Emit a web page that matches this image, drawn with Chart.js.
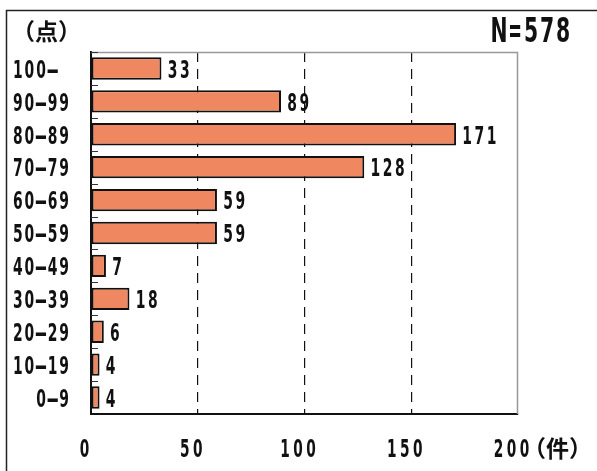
<!DOCTYPE html>
<html>
<head>
<meta charset="utf-8">
<script src="https://cdn.jsdelivr.net/npm/chart.js@4"></script>
<style>
html,body{margin:0;padding:0;background:#fff;}
#wrap{width:597px;height:471px;position:relative;}
</style>
</head>
<body>
<div id="wrap"><canvas id="c" width="597" height="471"></canvas></div>
<script>
const categories = ["100- ", "90-99", "80-89", "70-79", "60-69", "50-59", "40-49", "30-39", "20-29", "10-19", "0-9"];
const counts = [33, 89, 171, 128, 59, 59, 7, 18, 6, 4, 4];
const xTicks = [0, 50, 100, 150, 200];
const unitY = "（点）";
const unitX = "（件）";
const totalLabel = "N=578";

const NUM_FONT = "'DejaVu Sans', sans-serif";
const CJK_FONT = "'Noto Sans CJK JP', sans-serif";
const CHAR_SCALE = { '-': 2.4, '=': 0.8 };

// draws text as narrow fixed-pitch cells; y is the vertical centre of the digits
function drawCells(ctx, text, x, y, align, size, sx, pitch) {
  const total = text.length * pitch;
  let start = x;
  if (align === 'right') start = x - total;
  else if (align === 'center') start = x - total / 2;
  ctx.save();
  ctx.font = "bold " + size + "px " + NUM_FONT;
  ctx.textAlign = 'center';
  ctx.textBaseline = 'alphabetic';
  ctx.fillStyle = '#111';
  const base = y + size * 0.729 / 2;
  for (let i = 0; i < text.length; i++) {
    const ch = text[i];
    if (ch === ' ') continue;
    const cx = start + pitch * (i + 0.5);
    ctx.save();
    ctx.translate(cx, base);
    ctx.scale(sx * (CHAR_SCALE[ch] || 1), 1);
    ctx.fillText(ch, 0, 0);
    ctx.restore();
  }
  ctx.restore();
}

const decor = {
  id: 'decor',
  beforeDraw(chart){
    const ctx = chart.ctx;
    ctx.save();
    ctx.strokeStyle = '#222';
    ctx.lineWidth = 1.5;
    ctx.beginPath();
    ctx.moveTo(6.5, 471);
    ctx.lineTo(6.5, 10.5);
    ctx.lineTo(597, 10.5);
    ctx.stroke();
    ctx.restore();
  },
  afterDatasetsDraw(chart){
    const ctx = chart.ctx;
    const a = chart.chartArea;
    const ys = chart.scales.y;
    const xs = chart.scales.x;
    ctx.save();
    // plot frame top/right (gray)
    ctx.strokeStyle = '#999';
    ctx.lineWidth = 1.5;
    ctx.beginPath();
    ctx.moveTo(a.left, a.top + 0.5);
    ctx.lineTo(a.right - 0.5, a.top + 0.5);
    ctx.lineTo(a.right - 0.5, a.bottom);
    ctx.stroke();
    // inner tick marks at category boundaries
    ctx.strokeStyle = '#333';
    ctx.lineWidth = 1;
    for (let i = 0; i < categories.length; i++) {
      const y = Math.round(ys.getPixelForValue(i - 0.5)) + 0.5;
      ctx.beginPath();
      ctx.moveTo(a.left, y);
      ctx.lineTo(a.left + 7, y);
      ctx.stroke();
    }
    ctx.restore();

    // category labels (y axis)
    categories.forEach((c, i) => {
      drawCells(ctx, c, a.left - 21, ys.getPixelForValue(i) + 0.5, 'right', 24, 0.58, 11.6);
    });
    // x tick labels
    xTicks.forEach(v => {
      drawCells(ctx, String(v), xs.getPixelForValue(v) - 6.5, 448, 'center', 24.5, 0.56, 13);
    });
    // value labels
    const meta = chart.getDatasetMeta(0);
    meta.data.forEach((bar, i) => {
      drawCells(ctx, String(counts[i]), bar.x + 5, bar.y + 0.5, 'left', 24, 0.58, 12.2);
    });
    // N label
    drawCells(ctx, totalLabel, 491, 30, 'left', 34, 0.6, 16);

    // unit labels
    ctx.save();
    ctx.fillStyle = '#111';
    ctx.font = "bold 23px " + CJK_FONT;
    ctx.textAlign = 'left';
    ctx.textBaseline = 'middle';
    ctx.fillText(unitY, 12, 31);
    ctx.fillText(unitX, 523, 448);
    ctx.restore();
  }
};

new Chart(document.getElementById('c'), {
  type: 'bar',
  data: {
    labels: categories,
    datasets: [{
      data: counts,
      backgroundColor: '#EF8860',
      borderColor: '#111',
      borderWidth: 2,
      borderSkipped: false,
      categoryPercentage: 1,
      barPercentage: 0.68
    }]
  },
  options: {
    indexAxis: 'y',
    responsive: false,
    animation: false,
    devicePixelRatio: 1,
    layout: { padding: { top: 52, right: 79, left: 0, bottom: 0 } },
    plugins: { legend: { display: false }, tooltip: { enabled: false } },
    scales: {
      x: {
        min: 0, max: 200,
        afterBuildTicks(s){ s.ticks = xTicks.map(v => ({ value: v })); },
        afterFit(s){ s.height = 57; },
        border: { display: true, color: '#111', width: 2, dash: [10, 7] },
        grid: {
          drawTicks: false,
          color: ctx => (ctx.tick && (ctx.tick.value === 0 || ctx.tick.value === 200)) ? 'rgba(0,0,0,0)' : '#111',
          lineWidth: 1.2
        },
        ticks: { display: false }
      },
      y: {
        afterFit(s){ s.width = 91; },
        border: { display: true, color: '#111', width: 2 },
        grid: { display: false },
        ticks: { display: false }
      }
    }
  },
  plugins: [decor]
});
</script>
</body>
</html>
